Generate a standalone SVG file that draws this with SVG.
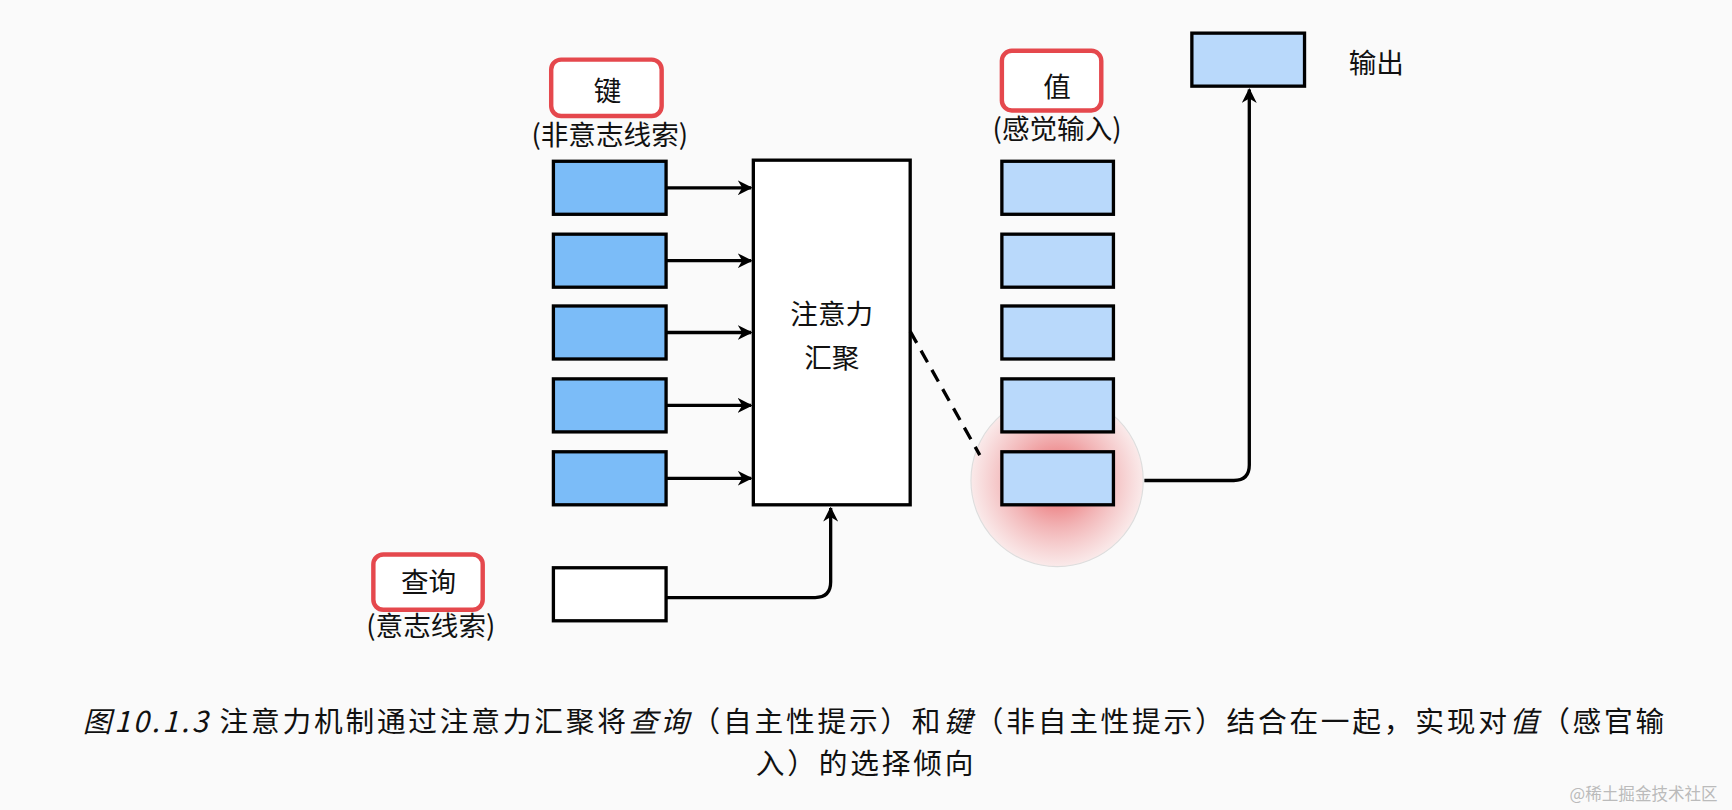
<svg xmlns="http://www.w3.org/2000/svg" width="1732" height="810" viewBox="0 0 1732 810">
<defs>
<style>
text{font-family:"Noto Sans CJK SC","Noto Sans",sans-serif;fill:#111}
.lbl{font-size:25px;text-anchor:middle}
.sub{font-size:25px;text-anchor:middle}
.red{fill:#fff;stroke:#e5484d;stroke-width:4}
.key{fill:#7bbcf8;stroke:#000;stroke-width:3}
.val{fill:#b9d9fb;stroke:#000;stroke-width:3}
.ln{fill:none;stroke:#000;stroke-width:3}
.cap{font-size:26px;letter-spacing:2.5px}
</style>
<marker id="ah" viewBox="0 0 10 10" refX="9" refY="5" markerWidth="4.5" markerHeight="4.5" orient="auto"><path d="M0,0 L10,5 L0,10 L3,5 Z" fill="#000"/></marker>
<radialGradient id="glow" cx="0.5" cy="0.5" r="0.5">
<stop offset="0" stop-color="#e85558"/><stop offset="0.55" stop-color="#f0a3a5" stop-opacity="0.8"/><stop offset="1" stop-color="#fae3e3" stop-opacity="0.7"/>
</radialGradient>
</defs>
<rect width="1732" height="810" fill="#fafafa"/>
<g transform="scale(1.1046)">
<g id="glow-sel"><ellipse cx="957" cy="435" rx="78" ry="78" fill="url(#glow)" stroke="#ddd" stroke-width="1"/></g>
<g id="key-label"><rect class="red" x="499" y="54" width="100" height="51" rx="9"/><text class="lbl" x="550" y="91">键</text><text class="sub" x="552" y="131">(非意志线索)</text></g>
<g id="keys">
<rect class="key" x="501" y="146" width="102" height="48"/>
<rect class="key" x="501" y="212" width="102" height="48"/>
<rect class="key" x="501" y="277" width="102" height="48"/>
<rect class="key" x="501" y="343" width="102" height="48"/>
<rect class="key" x="501" y="409" width="102" height="48"/>
</g>
<g id="pool"><rect x="682" y="145" width="142" height="312" fill="#fff" stroke="#000" stroke-width="3"/><text class="lbl" x="753" y="293">注意力</text><text class="lbl" x="753" y="333">汇聚</text></g>
<g id="value-label"><rect class="red" x="907" y="46" width="90" height="54" rx="9"/><text class="lbl" x="957" y="88">值</text><text class="sub" x="957" y="126">(感觉输入)</text></g>
<g id="values">
<rect class="val" x="907" y="146" width="101" height="48"/>
<rect class="val" x="907" y="212" width="101" height="48"/>
<rect class="val" x="907" y="277" width="101" height="48"/>
<rect class="val" x="907" y="343" width="101" height="48"/>
<rect class="val" x="907" y="409" width="101" height="48"/>
</g>
<g id="output"><rect class="val" x="1079" y="30" width="102" height="48"/><text class="lbl" x="1246" y="66">输出</text></g>
<g id="query-label"><rect class="red" x="338" y="502" width="99" height="50" rx="9"/><text class="lbl" x="388" y="536">查询</text><text class="sub" x="390" y="576">(意志线索)</text></g>
<g id="query"><rect x="501" y="514" width="102" height="48" fill="#fff" stroke="#000" stroke-width="3"/></g>
<g id="connectors">
<path class="ln" marker-end="url(#ah)" d="M603,170 H680"/>
<path class="ln" marker-end="url(#ah)" d="M603,236 H680"/>
<path class="ln" marker-end="url(#ah)" d="M603,301 H680"/>
<path class="ln" marker-end="url(#ah)" d="M603,367 H680"/>
<path class="ln" marker-end="url(#ah)" d="M603,433 H680"/>
<path class="ln" marker-end="url(#ah)" d="M603,541 H738 Q752,541 752,527 V460"/>
<path class="ln" stroke-dasharray="12,8" d="M824,300 L887,412"/>
<path class="ln" marker-end="url(#ah)" d="M1036,435 H1117 Q1131,435 1131,421 V81"/>
</g>
<g id="caption">
<text class="cap" x="792" y="663" text-anchor="middle"><tspan font-style="italic">图10.1.3</tspan> 注意力机制通过注意力汇聚将<tspan font-style="italic">查询</tspan>（自主性提示）和<tspan font-style="italic">键</tspan>（非自主性提示）结合在一起，实现对<tspan font-style="italic">值</tspan>（感官输</text>
<text class="cap" x="784" y="701" text-anchor="middle">入）的选择倾向</text>
<text x="1555" y="724" font-size="15" fill="#bbb" style="fill:#bbb" text-anchor="end">@稀土掘金技术社区</text>
</g>
</g>
</svg>
